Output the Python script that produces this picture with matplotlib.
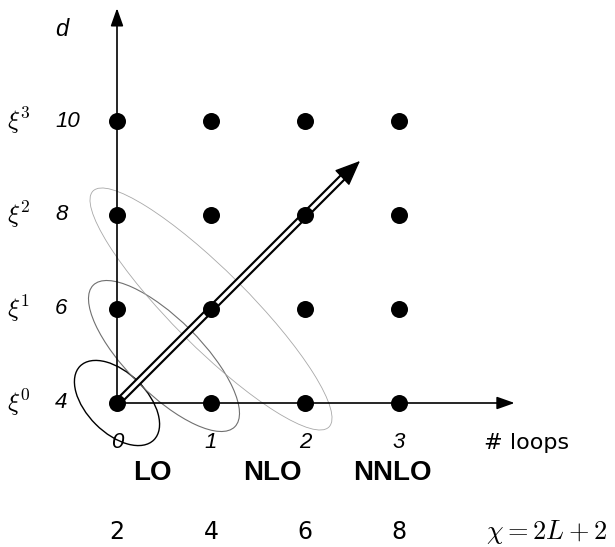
import matplotlib
matplotlib.use("Agg")
import matplotlib.pyplot as plt
from matplotlib.patches import Ellipse

plt.rcParams["mathtext.fontset"] = "cm"

# power counting grid: loops L (x) vs xi order (y), d = 2*order + 4
loops = [0, 1, 2, 3]
orders = [0, 1, 2, 3]
dims = ["4", "6", "8", "10"]
xi_labels = [r"$\xi^\mathsf{0}$", r"$\xi^\mathsf{1}$", r"$\xi^\mathsf{2}$", r"$\xi^\mathsf{3}$"]
loop_labels = ["0", "1", "2", "3"]
order_names = ["LO", "NLO", "NNLO"]
chi_values = ["2", "4", "6", "8"]

# pixel -> data scale: one grid step is 94 px, origin at (117, 403)
W, H = 615, 547
step, ox, oy = 94.0, 117.0, 403.0

fig = plt.figure(figsize=(W / 100, H / 100), dpi=100)
ax = fig.add_axes([0, 0, 1, 1])
ax.set_xlim(-ox / step, (W - ox) / step)
ax.set_ylim((oy - H) / step, oy / step)
ax.axis("off")

# axes arrows
arr = dict(arrowstyle="-|>,head_length=0.9,head_width=0.32", color="black",
           lw=1.2, mutation_scale=12, shrinkA=0, shrinkB=0)
ax.annotate("", xy=(0, 4.20), xytext=(0, 0), arrowprops=arr)
ax.annotate("", xy=(4.23, 0), xytext=(0, 0), arrowprops=arr)

# ellipses grouping LO / NLO / NNLO contributions
ell = [
    ((0.0, 0.0), 1.11, 0.64, "black", 1.0),
    ((0.5, 0.5), 2.13, 0.79, "#707070", 0.8),
    ((1.0, 1.0), 3.55, 0.81, "#a8a8a8", 0.6),
]
for c, w, h, col, lw in ell:
    ax.add_patch(Ellipse(c, w, h, angle=-45, fill=False, edgecolor=col, lw=lw, zorder=2))

# double-line diagonal arrow
tip = 2.585
shaft = tip - 0.13
ax.plot([0, shaft], [0, shaft], color="black", lw=5.6,
        solid_capstyle="butt", zorder=3)
ax.plot([0, shaft], [0, shaft], color="white", lw=2.5,
        solid_capstyle="butt", zorder=3)
ax.annotate("", xy=(tip, tip - 0.01), xytext=(tip - 0.17, tip - 0.17),
            arrowprops=dict(arrowstyle="-|>,head_length=1.0,head_width=0.42",
                            color="black", lw=1.0, mutation_scale=16,
                            shrinkA=0, shrinkB=0), zorder=4)

# grid dots
xs = [x for x in loops for y in orders]
ys = [y for x in loops for y in orders]
ax.scatter(xs, ys, s=150, color="black", zorder=5, linewidths=0)

# left labels
lx_xi = (7 - ox) / step
lx_d = (55 - ox) / step
for y, xl, dl in zip(orders, xi_labels, dims):
    ax.text(lx_xi, y, xl, fontsize=18, ha="left", va="center")
    ax.text(lx_d, y, dl, fontsize=16, family="Liberation Sans", style="italic",
            ha="left", va="center")
ax.text(lx_d, (oy - 30) / step, "d", fontsize=17, family="Liberation Sans",
        style="italic", ha="left", va="center")

# loop numbers
y_loop = (oy - 443) / step
for x, t in zip(loops, loop_labels):
    ax.text(x, y_loop, t, fontsize=16, family="Liberation Sans", style="italic",
            ha="center", va="center")
ax.text((484 - ox) / step, y_loop, "# loops", fontsize=16, ha="left", va="center")

# order names
y_ord = (oy - 473) / step
for x, t in zip([152.5, 272, 392], order_names):
    ax.text((x - ox) / step, y_ord, t, fontsize=20, family="Liberation Sans",
            weight="bold", ha="center", va="center")

# chiral order
y_chi = (oy - 532) / step
for x, t in zip(loops, chi_values):
    ax.text(x, y_chi, t, fontsize=17, ha="center", va="center")
ax.text((486 - ox) / step, y_chi, r"$\chi = \mathsf{2}L + \mathsf{2}$", fontsize=19,
        ha="left", va="center")

fig.savefig("out.png", dpi=100)
